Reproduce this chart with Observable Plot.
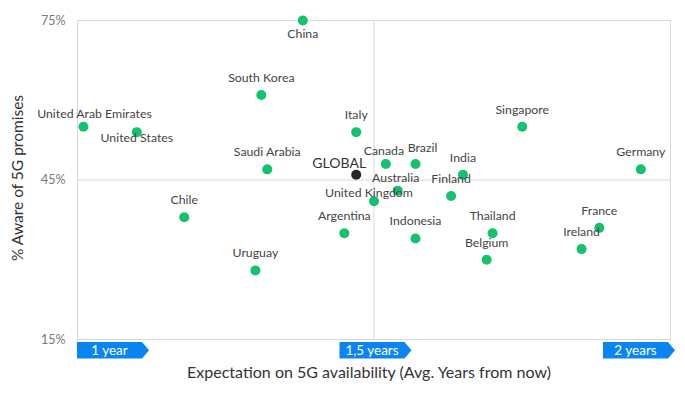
<!DOCTYPE html>
<html><head><meta charset="utf-8">
<script src="https://cdn.jsdelivr.net/npm/d3@7"></script>
<script src="https://cdn.jsdelivr.net/npm/@observablehq/plot@0.6"></script>
<style>body{margin:0;background:#fff;font-family:Lato,"Noto Sans",sans-serif;}</style>
</head><body><div id="chart"></div>
<script>
// Data
const countries = ["China","South Korea","United Arab Emirates","United States","Saudi Arabia","GLOBAL","Italy","Canada","Brazil","India","Singapore","Germany","Australia","Finland","United Kingdom","Argentina","Indonesia","Thailand","Belgium","France","Ireland","Chile","Uruguay"];
const years =     [1.38, 1.31, 1.01, 1.10, 1.32, 1.47, 1.47, 1.52, 1.57, 1.65, 1.75, 1.95, 1.54, 1.63, 1.50, 1.45, 1.57, 1.70, 1.69, 1.88, 1.85, 1.18, 1.30];
const aware =     [75,   61,   55,   54,   47,   46,   54,   48,   48,   46,   55,   47,   43,   42,   41,   35,   34,   35,   30,   36,   32,   38,   28];
const xTickValues = [1, 1.5, 2];
const xTickLabels = ["1 year", "1,5 years", "2 years"];
const yTickValues = [15, 45, 75];
const yTickLabels = ["15%", "45%", "75%"];
const xTitle = "Expectation on 5G availability (Avg. Years from now)";
const yTitle = "% Aware of 5G promises";

// Styling (label nudges in pixels)
const defaultNudge = [0, -17];
const nudges = {
  "China": [0, 14],
  "United Arab Emirates": [11, -13],
  "United States": [0, 6],
  "GLOBAL": [-17, -11],
  "Canada": [-2, -13],
  "Brazil": [7, -16],
  "Australia": [-2, -13],
  "United Kingdom": [-5, -8]
};
const boxNudge = {"1 year": 32, "1,5 years": -2, "2 years": -35};

const rows = countries.map((name, i) => ({name, x: years[i], y: aware[i]}));
const ticks = xTickValues.map((v, i) => ({v, label: xTickLabels[i]}));

const arrowBox = {
  draw(context) {
    const w = 65, h = 16.5, tip = 7;
    context.moveTo(-w/2, -h/2);
    context.lineTo(w/2, -h/2);
    context.lineTo(w/2 + tip, 0);
    context.lineTo(w/2, h/2);
    context.lineTo(-w/2, h/2);
    context.closePath();
  }
};

const labelMarks = rows.map(d => {
  const [dx, dy] = nudges[d.name] || defaultNudge;
  const isG = d.name === "GLOBAL";
  return Plot.text([d], {
    x: "x", y: "y", text: "name", dx, dy,
    fontSize: isG ? 14 : 12.3, fill: isG ? "#333" : "#444"
  });
});

const boxMarks = ticks.map(t => [
  Plot.dot([t], {x: "v", y: () => 15, symbol: arrowBox, fill: "#0a84ee", stroke: null, dx: boxNudge[t.label], dy: 10.8}),
  Plot.text([t], {x: "v", y: () => 15, text: "label", fill: "white", fontSize: 13.5, dx: boxNudge[t.label], dy: 10.8})
]);

const chart = Plot.plot({
  width: 685,
  height: 394,
  marginLeft: 77,
  marginRight: 15,
  marginTop: 20,
  marginBottom: 55,
  style: {fontFamily: "Lato, 'Noto Sans', sans-serif", background: "#fff", overflow: "visible"},
  x: {domain: [1, 2], axis: null},
  y: {domain: [15, 75], axis: null},
  marks: [
    Plot.frame({stroke: "#d9d9d9"}),
    Plot.ruleX([1.5], {stroke: "#d9d9d9"}),
    Plot.ruleY([45], {stroke: "#d9d9d9"}),
    Plot.text(yTickValues, {x: () => 1, y: d => d, text: (d, i) => yTickLabels[i], textAnchor: "end", dx: -12, fill: "#777", fontSize: 12.5}),
    Plot.dot(rows, {x: "x", y: "y", r: 5, fill: d => d.name === "GLOBAL" ? "#262626" : "#12c26c", stroke: null}),
    ...labelMarks,
    ...boxMarks.flat(),
    Plot.text([xTitle], {frameAnchor: "bottom", textAnchor: "middle", dy: 38, dx: -5, fontSize: 16, fill: "#333"}),
    Plot.text([yTitle], {frameAnchor: "left", textAnchor: "middle", rotate: -90, dx: -59, dy: -2, fontSize: 15.5, fill: "#333"})
  ]
});
document.getElementById("chart").appendChild(chart);
</script>
</body></html>
